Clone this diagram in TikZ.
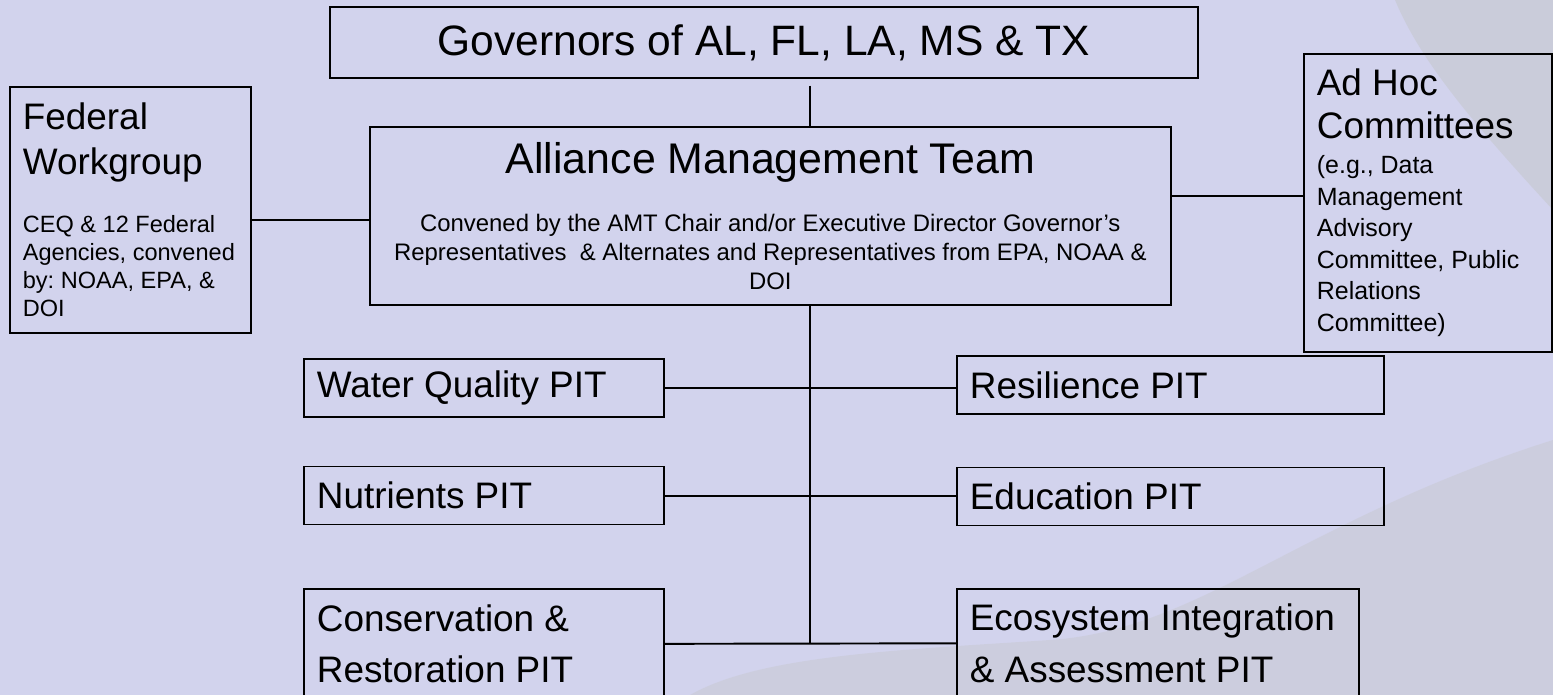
\documentclass[tikz,border=0pt]{standalone}
\usepackage{fontspec}
\setmainfont{Liberation Sans}
\usetikzlibrary{positioning}
\definecolor{slidebg}{RGB}{210,211,237}
\definecolor{landgrey}{RGB}{192,194,190}
\frenchspacing
% size and line pitch, with the font's own fixed word space
\newcommand{\boxfont}[2]{\fontsize{#1}{#2}\selectfont\spaceskip=\fontdimen2\font\relax}
\tikzset{
	box/.style={draw, line width=1pt, inner xsep=0.26cm, inner ysep=0pt, align=left, anchor=north west,
		execute at begin node={\spaceskip=\fontdimen2\font\relax}}, % every rectangle of the chart
	pit/.style={box, font=\boxfont{21}{29.5}}, % the PIT boxes at the bottom
	link/.style={line width=1.1pt}, % plain lines between the boxes
}
\begin{document}
\begin{tikzpicture}[x=0.02cm, y=-0.02cm]
	\useasboundingbox (0,0) rectangle (1553,695);
	% slide background, with the faint map behind it
	\fill[slidebg] (0,0) rectangle (1553,695);
	\fill[landgrey, opacity=.4] (1395,0) .. controls (1420,60) and (1470,120) .. (1553,210) -- (1553,0) -- cycle;
	\fill[landgrey, opacity=.3] (690,695) .. controls (760,655) and (900,650) .. (1050,640) .. controls (1200,630) and (1300,520) .. (1553,440) -- (1553,695) -- cycle;

	%% top of the chart
	\node[box, align=center, text width=16.84cm, minimum height=1.42cm, font=\boxfont{24.2}{29}] (Gov) at (329,6) {Governors of AL, FL, LA, MS \& TX};
	\node[box, align=center, text width=15.5cm, minimum height=3.56cm] (AMT) at (369,126) {{\boxfont{24.4}{29}Alliance Management Team\par}\vspace{17pt}{\boxfont{13.6}{16.4}Convened by the AMT Chair and/or Executive Director Governor’s\\Representatives\ \ \& Alternates and Representatives from EPA, NOAA \&\\DOI\par}};
	% the two side groups
	\node[box, text width=4.3cm, minimum height=4.92cm] (Fed) at (9,86) {{\boxfont{21}{25.5}Federal\\Workgroup\par}\vspace{17.5pt}{\boxfont{13.4}{15.9}CEQ \& 12 Federal\\Agencies, convened\\by: NOAA, EPA, \&\\DOI\par}};
	\node[box, text width=4.44cm, minimum height=5.96cm] (AdHoc) at (1303,53) {{\boxfont{21}{24.4}Ad Hoc\\Committees\par}\vspace{1.8pt}{\boxfont{14.2}{18}(e.g., Data\\Management\\Advisory\\Committee, Public\\Relations\\Committee)\par}};

	%% the PITs, left column
	\node[pit, text width=6.68cm, minimum height=1.16cm] (WQ) at (303,358) {Water Quality PIT};
	\node[pit, text width=6.68cm, minimum height=1.16cm, below=0.96cm of WQ.south west, anchor=north west] (Nut) {Nutrients PIT};
	\node[pit, text width=6.68cm, minimum height=2.18cm, below=1.26cm of Nut.south west, anchor=north west] (Cons) {Conservation \&\\Restoration PIT};
	%% right column
	\node[pit, text width=8.02cm, minimum height=1.16cm] (Res) at (956,355) {Resilience PIT};
	\node[pit, text width=8.02cm, minimum height=1.16cm, below=1.04cm of Res.south west, anchor=north west] (Edu) {Education PIT};
	\node[pit, text width=7.52cm, minimum height=2.16cm, below=1.24cm of Edu.south west, anchor=north west] (Eco) {Ecosystem Integration\\\& Assessment PIT};

	% spine of the chart and the link levels
	\coordinate (spine) at (810,0);
	\coordinate (fedlink) at (0,220);
	\coordinate (adhoclink) at (0,196);

	\draw[link] ([yshift=-0.14cm]Gov.south -| spine) -- (AMT.north -| spine);
	\draw[link] (Fed.east |- fedlink) -- (AMT.west |- fedlink);
	\draw[link] (AMT.east |- adhoclink) -- (AdHoc.west |- adhoclink);
	\draw[link] (AMT.south -| spine) -- (spine |- Cons.east);
	%% one line across for each pair of PITs
	\draw[link] (WQ.east) -- (WQ.east -| Res.west);
	\draw[link] (Nut.east) -- (Nut.east -| Edu.west);
	\draw[link] (Cons.east) -- (Eco.west);
\end{tikzpicture}
\end{document}
